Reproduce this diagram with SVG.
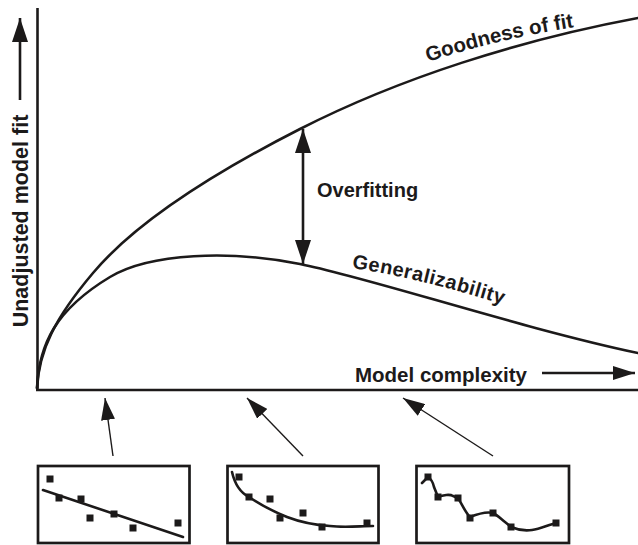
<svg xmlns="http://www.w3.org/2000/svg" width="638" height="545" viewBox="0 0 638 545">
<style>
.ln{fill:none;stroke:#1c1a1a;stroke-width:2.6;stroke-linejoin:round;stroke-linecap:round}
.ax{fill:none;stroke:#1c1a1a;stroke-width:2.6}
.thin{fill:none;stroke:#1c1a1a;stroke-width:1.4}
.lbl{font-family:"Liberation Sans",Arial,sans-serif;font-weight:bold;fill:#1c1a1a}
.box{fill:#fff;stroke:#1c1a1a;stroke-width:2.7}
.pt{fill:#1c1a1a}
</style>
<defs>
<marker id="head" markerUnits="userSpaceOnUse" viewBox="0 0 24 16" markerWidth="24" markerHeight="16" refX="24" refY="8" orient="auto-start-reverse">
<path d="M0,0 L24,8 L0,16 z" fill="#1c1a1a"/>
</marker>
<marker id="headS" markerUnits="userSpaceOnUse" viewBox="0 0 22 14" markerWidth="22" markerHeight="14" refX="22" refY="7" orient="auto">
<path d="M0,0 L22,7 L0,14 z" fill="#1c1a1a"/>
</marker>
<path id="gofPath" d="M428,62 Q500,38 582,26"/>
<path id="genPath" d="M352,268 Q420,278 508,306"/>
</defs>

<g id="axes">
<line class="ax" x1="37.5" y1="8" x2="37.5" y2="391"/>
<line class="ax" x1="36" y1="390" x2="638" y2="390"/>
</g>

<g id="y-axis-label">
<line class="ax" x1="20" y1="100" x2="20" y2="18" marker-end="url(#head)"/>
<text class="lbl" font-size="21.5" text-anchor="middle" transform="translate(28,221) rotate(-90)">Unadjusted model fit</text>
</g>

<g id="x-axis-label">
<text class="lbl" x="355" y="382" font-size="20.5">Model complexity</text>
<line class="ax" x1="542" y1="373" x2="635" y2="373" marker-end="url(#headS)"/>
</g>

<g id="goodness-of-fit">
<path class="ln" d="M37,388 C39,350 55,318 93,273 C130,229 200,180 300,129 C400,78 520,40 638,18"/>
<text class="lbl" font-size="20.5"><textPath href="#gofPath">Goodness of fit</textPath></text>
</g>

<g id="generalizability">
<path class="ln" d="M37,388 C39,345 55,310 110,277 C150,253 230,250 300,264 C370,278 520,328 638,353"/>
<text class="lbl" font-size="20" letter-spacing="0.5"><textPath href="#genPath">Generalizability</textPath></text>
</g>

<g id="overfitting">
<line class="ax" x1="303" y1="129" x2="303" y2="264" marker-start="url(#head)" marker-end="url(#head)"/>
<text class="lbl" x="317" y="197" font-size="20">Overfitting</text>
</g>

<g id="connectors">
<line class="thin" x1="113" y1="456" x2="105" y2="398" marker-end="url(#headS)"/>
<line class="thin" x1="303" y1="456" x2="247" y2="398" marker-end="url(#headS)"/>
<line class="thin" x1="493" y1="456" x2="403" y2="398" marker-end="url(#headS)"/>
</g>

<g id="box-linear">
<rect class="box" x="38" y="466" width="151.5" height="77"/>
<line class="ln" x1="43" y1="490" x2="183" y2="537"/>
<rect class="pt" x="46.5" y="475.5" width="7" height="7"/>
<rect class="pt" x="55.5" y="494.5" width="7" height="7"/>
<rect class="pt" x="77.5" y="495.5" width="7" height="7"/>
<rect class="pt" x="86.5" y="514.5" width="7" height="7"/>
<rect class="pt" x="110.5" y="510.5" width="7" height="7"/>
<rect class="pt" x="129.5" y="524.5" width="7" height="7"/>
<rect class="pt" x="174.5" y="519.5" width="7" height="7"/>
</g>

<g id="box-smooth">
<rect class="box" x="227.5" y="466" width="151" height="77"/>
<path class="ln" d="M232,472 C235,485 241,493 249,497 C258,503 272,511 287,517 C300,522 315,525 330,526 C345,528 360,526 373,526"/>
<rect class="pt" x="235.5" y="473.5" width="7" height="7"/>
<rect class="pt" x="245.5" y="493.5" width="7" height="7"/>
<rect class="pt" x="266.5" y="495.5" width="7" height="7"/>
<rect class="pt" x="276.5" y="514.5" width="7" height="7"/>
<rect class="pt" x="299.5" y="509.5" width="7" height="7"/>
<rect class="pt" x="318.5" y="523.5" width="7" height="7"/>
<rect class="pt" x="363.5" y="519.5" width="7" height="7"/>
</g>

<g id="box-overfit">
<rect class="box" x="416.5" y="466" width="152.5" height="77"/>
<path class="ln" d="M422,483 L428,477 C431,479 433,482 434,487 L438,497 C443,495 450,494 453,496 L458,498 C462,504 465,512 470,517 C475,515 486,511 493,513 C497,515 500,518 505,522 L511,527 C518,530 525,531 532,530 C540,529 548,525 556,523"/>
<rect class="pt" x="424.5" y="473.5" width="7" height="7"/>
<rect class="pt" x="434.5" y="493.5" width="7" height="7"/>
<rect class="pt" x="454.5" y="494.5" width="7" height="7"/>
<rect class="pt" x="466.5" y="514.5" width="7" height="7"/>
<rect class="pt" x="489.5" y="509.5" width="7" height="7"/>
<rect class="pt" x="507.5" y="523.5" width="7" height="7"/>
<rect class="pt" x="552.5" y="519.5" width="7" height="7"/>
</g>
</svg>
